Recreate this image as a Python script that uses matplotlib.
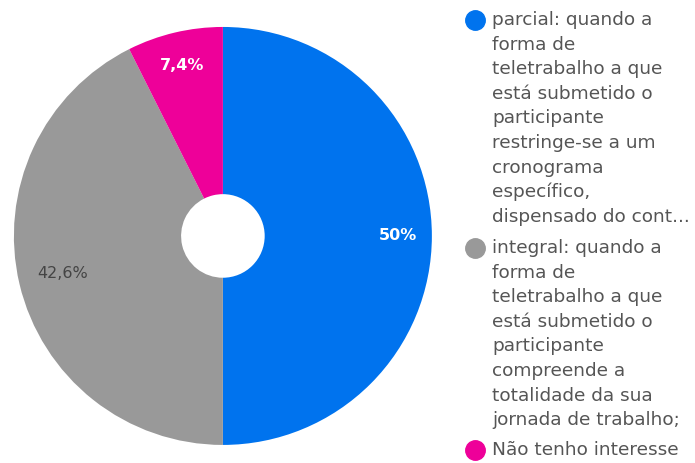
import numpy as np
import matplotlib.pyplot as plt

labels = [
    "parcial: quando a\nforma de\nteletrabalho a que\nestá submetido o\nparticipante\nrestringe-se a um\ncronograma\nespecífico,\ndispensado do cont...",
    "integral: quando a\nforma de\nteletrabalho a que\nestá submetido o\nparticipante\ncompreende a\ntotalidade da sua\njornada de trabalho;",
    "Não tenho interesse",
]
values = [50, 42.6, 7.4]
pct_labels = ["50%", "42,6%", "7,4%"]
colors = ["#0073EE", "#999999", "#EE0099"]
pct_colors = ["white", "#444444", "white"]

plt.rcParams['font.family'] = ['DejaVu Sans']

fig = plt.figure(figsize=(6.95, 4.63), dpi=100)
ax = fig.add_axes([0.020, 0.039, 0.6014, 0.9028])

wedges, _ = ax.pie(values, colors=colors, startangle=90, counterclock=False,
                   radius=1, wedgeprops=dict(width=0.8, linewidth=0))
for w, txt, c in zip(wedges, pct_labels, pct_colors):
    ang = np.deg2rad((w.theta1 + w.theta2) / 2)
    r = 0.84 if c == 'white' else 0.79
    ax.text(r * np.cos(ang), r * np.sin(ang), txt, color=c,
            ha='center', va='center', fontsize=11.5,
            fontweight='bold' if c == 'white' else 'normal')
ax.set_xlim(-1, 1)
ax.set_ylim(-1, 1)
ax.set_aspect('equal')
ax.axis('off')

# legend drawn by hand, one line at a time
H = 463
line_h = 24.6 / H
starts = [20, 248, 450]
for lab, col, y0 in zip(labels, colors, starts):
    y = 1 - y0 / H
    fig.add_artist(plt.Line2D([475 / 695], [y], marker='o', markersize=14,
                              color=col, transform=fig.transFigure))
    for ln in lab.split("\n"):
        fig.text(492 / 695, y, ln, fontsize=13.3, color='#555555', va='center', ha='left')
        y -= line_h

fig.savefig("out.png", dpi=100)
